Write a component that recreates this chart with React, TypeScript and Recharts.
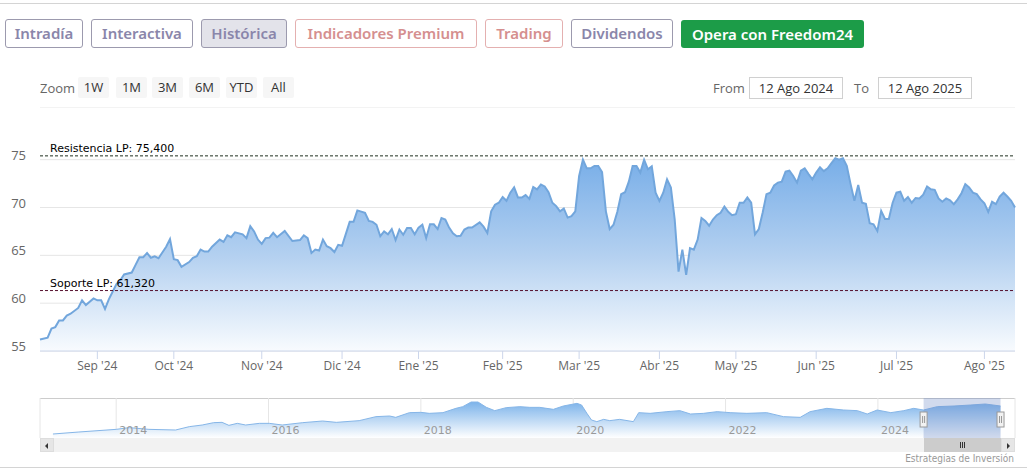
import React from "react";
import {
  AreaChart,
  Area,
  XAxis,
  YAxis,
  CartesianGrid,
  ReferenceLine,
  ReferenceArea,
} from "recharts";

// trading session (0 = 12 Ago 2024) and close price
const sessions = [
  0, 2, 3, 4, 5, 6, 7, 8, 10, 11, 12, 14, 15, 16, 17, 18, 20, 21, 22, 24, 25,
  26, 27, 28, 29, 30, 31, 32, 33, 34, 35, 36, 37, 39, 40, 41, 42, 43, 44, 45,
  47, 48, 49, 50, 51, 53, 54, 55, 56, 57, 58, 59, 60, 61, 62, 64, 66, 68, 69,
  70, 71, 72, 73, 74, 75, 76, 77, 78, 79, 81, 82, 83, 85, 86, 87, 88, 89, 90,
  91, 92, 93, 94, 95, 96, 97, 98, 99, 100, 101, 102, 103, 104, 105, 106, 107,
  108, 109, 110, 111, 112, 113, 115, 116, 117, 118, 119, 120, 121, 122, 123,
  124, 125, 126, 127, 128, 129, 130, 131, 132, 133, 134, 135, 136, 137, 138,
  139, 140, 141, 142, 143, 144, 145, 146, 147, 148, 149, 150, 151, 152, 153,
  154, 155, 156, 157, 158, 159, 160, 161, 162, 163, 164, 165, 166, 167, 168,
  169, 170, 171, 172, 173, 174, 175, 176, 177, 178, 179, 180, 181, 182, 183,
  184, 185, 186, 187, 188, 189, 190, 191, 192, 193, 194, 195, 196, 197, 198,
  199, 200, 201, 202, 203, 204, 205, 206, 207, 208, 209, 210, 211, 212, 213,
  214, 215, 216, 217, 218, 219, 220, 221, 222, 223, 224, 225, 226, 227, 228,
  229, 230, 231, 232, 233, 234, 235, 236, 237, 238, 239, 240, 241, 242, 243,
  244, 245, 246, 247, 248, 249, 250, 251, 252, 253, 254, 255,
];
const prices = [
  56.2, 56.4, 57.35, 57.5, 58.2, 58.2, 58.7, 58.9, 59.5, 60.3, 59.8, 60.5,
  60.3, 60.3, 59.4, 60.4, 62.0, 62.4, 63.0, 63.2, 64.0, 64.8, 64.8, 65.25,
  64.75, 64.9, 64.7, 65.3, 65.9, 66.7, 64.6, 64.5, 63.8, 64.3, 64.75, 64.9,
  65.6, 65.4, 65.4, 65.9, 66.65, 66.4, 67.1, 66.9, 67.4, 67.2, 66.8, 68.05,
  67.5, 66.65, 66.2, 66.8, 66.85, 67.35, 66.9, 67.55, 66.5, 66.6, 67.1, 66.8,
  65.25, 65.6, 65.5, 66.65, 65.95, 65.75, 65.35, 66.1, 66.0, 68.5, 68.5, 69.7,
  69.45, 68.6, 68.5, 68.2, 67.0, 67.5, 67.2, 67.75, 66.6, 67.7, 67.15, 67.85,
  67.85, 67.2, 67.9, 68.2, 66.8, 68.25, 68.25, 67.75, 68.9, 68.75, 67.9, 67.3,
  67.0, 67.05, 67.7, 67.9, 67.9, 68.45, 68.0, 67.35, 69.6, 70.3, 70.5, 71.1,
  70.7, 71.55, 72.1, 71.05, 71.05, 71.3, 70.9, 72.15, 71.9, 72.4, 72.2, 71.6,
  70.5, 70.15, 69.6, 69.9, 68.95, 69.1, 69.6, 73.3, 75.0, 74.1, 74.1, 74.35,
  74.35, 73.7, 69.6, 67.75, 68.2, 69.55, 71.4, 71.6, 72.7, 74.35, 74.35,
  73.65, 75.0, 74.0, 74.3, 71.55, 70.7, 71.55, 72.95, 72.1, 68.75, 63.3, 65.6,
  62.95, 65.75, 65.6, 66.65, 68.9, 68.6, 68.1, 68.75, 69.2, 69.45, 70.1,
  69.55, 69.2, 69.3, 70.5, 70.5, 71.05, 70.5, 67.2, 67.75, 69.45, 71.4, 71.55,
  72.3, 72.6, 72.7, 73.75, 73.85, 73.3, 72.6, 73.85, 74.1, 73.5, 72.95, 73.65,
  74.2, 73.8, 74.1, 74.65, 75.15, 75.0, 75.15, 74.35, 72.45, 70.7, 72.35,
  70.5, 70.4, 68.35, 68.25, 67.55, 69.65, 68.8, 68.8, 70.5, 71.55, 71.65, 70.7,
  71.1, 70.5, 71.0, 70.95, 71.35, 72.2, 71.9, 71.85, 70.95, 70.6, 70.95, 70.75,
  70.35, 70.85, 71.5, 72.45, 72.1, 71.55, 71.4, 70.85, 70.45, 69.55, 70.6,
  70.35, 71.15, 71.55, 71.15, 70.7, 70.0,
];

// first session of each month
const monthSessions = [15, 35, 58, 79, 99, 121, 141, 162, 182, 203, 224, 247];
const monthLabels = [
  "Sep '24", "Oct '24", "Nov '24", "Dic '24", "Ene '25", "Feb '25",
  "Mar '25", "Abr '25", "May '25", "Jun '25", "Jul '25", "Ago '25",
];
const priceTicks = [55, 60, 65, 70, 75];
const resistance = 75.4;
const support = 61.32;

// navigator (full history), x in fractional years
const navYears = [
  2013.17, 2013.51, 2014.0, 2014.17, 2014.43, 2014.78, 2014.96, 2015.13,
  2015.28, 2015.39, 2015.48, 2015.59, 2015.7, 2015.88, 2016.01, 2016.18,
  2016.45, 2016.71, 2016.89, 2017.19, 2017.41, 2017.59, 2017.67, 2017.85,
  2018.0, 2018.11, 2018.29, 2018.46, 2018.55, 2018.66, 2018.75, 2018.86,
  2018.97, 2019.12, 2019.3, 2019.43, 2019.56, 2019.74, 2019.87, 2020.05,
  2020.11, 2020.18, 2020.24, 2020.31, 2020.4, 2020.48, 2020.61, 2020.79,
  2020.86, 2021.01, 2021.23, 2021.4, 2021.54, 2021.71, 2021.89, 2022.06,
  2022.28, 2022.54, 2022.76, 2022.98, 2023.11, 2023.33, 2023.55, 2023.73,
  2023.86, 2023.99, 2024.17, 2024.34, 2024.47, 2024.6, 2024.78, 2025.0,
  2025.22, 2025.41, 2025.61,
];
const navValues = [
  12, 16, 21.3, 24.7, 21.3, 20, 26.7, 30, 34.7, 35.3, 29.3, 33.3, 30, 33.3,
  33.3, 30, 34.7, 38, 35.3, 38.7, 46.7, 48, 45.3, 54.7, 55.3, 53.3, 54.7, 63.3,
  66.7, 76, 76, 65.3, 58.7, 64.7, 66.7, 65.3, 65.3, 61.3, 68, 73.3, 70, 53.3,
  40, 36.7, 41.3, 38.7, 41.3, 36.7, 54.7, 53.3, 56.7, 58.7, 52, 53.3, 56.7,
  54.7, 53.3, 54.7, 46.7, 45.3, 56.7, 63.3, 60, 58.7, 52, 60, 54.7, 58.7, 63.3,
  60, 66.7, 68, 70, 72, 68,
];
const navYearTicks = [2014, 2016, 2018, 2020, 2022, 2024];
const rangeStart = 2024.6;
const rangeEnd = 2025.61;

const mainData = sessions.map((s, i) => ({ s, price: prices[i] }));
const navData = navYears.map((t, i) => ({ t, v: navValues[i] }));

const NAV_MIN = 2013;
const NAV_MAX = 2025.8;
const navX = (t: number) => 40 + ((t - NAV_MIN) / (NAV_MAX - NAV_MIN)) * 975;

const tabs = [
  { label: "Intradía", left: 5, width: 78, color: "#8a86aa", border: "#9c9aae", bg: "#fff" },
  { label: "Interactiva", left: 91, width: 102, color: "#8a86aa", border: "#9c9aae", bg: "#fff" },
  { label: "Histórica", left: 201, width: 86, color: "#8a86aa", border: "#9c9aae", bg: "#e3e3ea" },
  { label: "Indicadores Premium", left: 295, width: 182, color: "#d58f8f", border: "#e4b0b0", bg: "#fff" },
  { label: "Trading", left: 485, width: 78, color: "#d58f8f", border: "#e4b0b0", bg: "#fff" },
  { label: "Dividendos", left: 571, width: 102, color: "#8a86aa", border: "#9c9aae", bg: "#fff" },
];
const zoomButtons = [
  { label: "1W", left: 78 },
  { label: "1M", left: 116 },
  { label: "3M", left: 152 },
  { label: "6M", left: 189 },
  { label: "YTD", left: 226 },
  { label: "All", left: 263 },
];

const YTick = (props: any) => (
  <text
    x={26}
    y={props.y}
    textAnchor="end"
    fill="#666"
    fontSize={13}
    fontFamily="Open Sans"
  >
    {props.payload.value}
  </text>
);

const MonthTick = (props: any) => {
  const i = monthSessions.indexOf(props.payload.value);
  return (
    <text
      x={props.x}
      y={370}
      textAnchor="middle"
      fill="#666"
      fontSize={12}
      fontFamily="Open Sans"
    >
      {monthLabels[i]}
    </text>
  );
};

const YearTick = (props: any) => (
  <text
    x={props.x + 3}
    y={44}
    textAnchor="start"
    fill="#9a9a9a"
    fontSize={11}
    fontFamily="DejaVu Sans"
  >
    {props.payload.value}
  </text>
);

const lineLabel = (text: string) => (props: any) => (
  <text
    x={props.viewBox.x + 10}
    y={props.viewBox.y - 4}
    fill="#000"
    fontSize={11}
    fontFamily="DejaVu Sans"
  >
    {text}
  </text>
);

const Handle = (props: any) => {
  const x = props.viewBox.x;
  const y = props.viewBox.y + 14;
  return (
    <g>
      <rect x={x - 3.5} y={y} width={7} height={15} fill="#f2f2f2" stroke="#999" strokeWidth={1} />
      <line x1={x - 1} y1={y + 4} x2={x - 1} y2={y + 11} stroke="#999" />
      <line x1={x + 1} y1={y + 4} x2={x + 1} y2={y + 11} stroke="#999" />
    </g>
  );
};

const App = () => {
  const thumbLeft = navX(rangeStart);
  const thumbRight = navX(rangeEnd);
  return (
    <div
      style={{
        position: "absolute",
        left: 0,
        top: 0,
        width: 1027,
        height: 471,
        background: "#fff",
        overflow: "hidden",
        fontFamily: "Open Sans",
      }}
    >
      <div style={{ position: "absolute", left: 0, top: 3, width: 1027, height: 1, background: "#d4d4d4" }} />

      {tabs.map((t) => (
        <div
          key={t.label}
          style={{
            position: "absolute",
            left: t.left,
            top: 19,
            width: t.width,
            height: 29,
            boxSizing: "border-box",
            border: `1px solid ${t.border}`,
            borderRadius: 3,
            background: t.bg,
            color: t.color,
            fontFamily: "Noto Sans",
            fontWeight: 600,
            fontSize: 15,
            lineHeight: "27px",
            textAlign: "center",
          }}
        >
          {t.label}
        </div>
      ))}
      <div
        style={{
          position: "absolute",
          left: 681,
          top: 20,
          width: 183,
          height: 28,
          borderRadius: 3,
          background: "#1c9c48",
          color: "#fff",
          fontFamily: "Noto Sans",
          fontWeight: 600,
          fontSize: 15,
          lineHeight: "28px",
          textAlign: "center",
        }}
      >
        Opera con Freedom24
      </div>

      <div style={{ position: "absolute", left: 40, top: 78, fontSize: 13, color: "#666", lineHeight: "20px" }}>
        Zoom
      </div>
      {zoomButtons.map((b) => (
        <div
          key={b.label}
          style={{
            position: "absolute",
            left: b.left,
            top: 77,
            width: 31,
            height: 21,
            background: "#f6f6f6",
            borderRadius: 2,
            fontSize: 13,
            color: "#333",
            lineHeight: "21px",
            textAlign: "center",
          }}
        >
          {b.label}
        </div>
      ))}
      <div style={{ position: "absolute", left: 713, top: 78, fontSize: 13, color: "#666", lineHeight: "20px" }}>
        From
      </div>
      <div
        style={{
          position: "absolute",
          left: 749,
          top: 77,
          width: 94,
          height: 22,
          boxSizing: "border-box",
          border: "1px solid #d0d0d0",
          fontSize: 13,
          color: "#333",
          lineHeight: "20px",
          textAlign: "center",
        }}
      >
        12 Ago 2024
      </div>
      <div style={{ position: "absolute", left: 854, top: 78, fontSize: 13, color: "#666", lineHeight: "20px" }}>
        To
      </div>
      <div
        style={{
          position: "absolute",
          left: 878,
          top: 77,
          width: 94,
          height: 22,
          boxSizing: "border-box",
          border: "1px solid #d0d0d0",
          fontSize: 13,
          color: "#333",
          lineHeight: "20px",
          textAlign: "center",
        }}
      >
        12 Ago 2025
      </div>
      <div style={{ position: "absolute", left: 40, top: 107, width: 975, height: 1, background: "#f3f3f3" }} />

      <div style={{ position: "absolute", left: 0, top: 0 }}>
        <AreaChart
          width={1027}
          height={380}
          data={mainData}
          margin={{ top: 131, right: 12, bottom: 4, left: 8 }}
        >
          <defs>
            <linearGradient id="mainFill" x1="0" y1="0" x2="0" y2="1">
              <stop offset="0%" stopColor="#78aee8" />
              <stop offset="50%" stopColor="#b3d0f0" />
              <stop offset="100%" stopColor="#f8fbfe" />
            </linearGradient>
          </defs>
          <CartesianGrid vertical={false} stroke="#e6e6e6" horizontalValues={priceTicks} />
          <XAxis
            dataKey="s"
            type="number"
            domain={[0, 255]}
            ticks={monthSessions}
            interval={0}
            height={25}
            stroke="#ccd6eb"
            tickSize={8}
            tick={<MonthTick />}
          />
          <YAxis
            domain={[55, 78]}
            ticks={priceTicks}
            width={32}
            axisLine={false}
            tickLine={false}
            tick={<YTick />}
            allowDataOverflow
          />
          <Area
            type="linear"
            dataKey="price"
            stroke="#72a6dc"
            strokeWidth={2}
            fill="url(#mainFill)"
            fillOpacity={1}
            isAnimationActive={false}
            dot={false}
            activeDot={false}
          />
          <ReferenceLine
            y={resistance}
            stroke="#1f301f"
            strokeDasharray="3 2"
            label={lineLabel("Resistencia LP: 75,400")}
          />
          <ReferenceLine
            y={support}
            stroke="#55102e"
            strokeDasharray="3 2"
            label={lineLabel("Soporte LP: 61,320")}
          />
        </AreaChart>
      </div>

      <div style={{ position: "absolute", left: 40, top: 398, width: 975, height: 1, background: "#cccccc" }} />
      <div style={{ position: "absolute", left: 0, top: 390 }}>
        <AreaChart
          width={1027}
          height={60}
          data={navData}
          margin={{ top: 8, right: 12, bottom: 0, left: 40 }}
        >
          <defs>
            <linearGradient id="navFill" x1="0" y1="0" x2="0" y2="1">
              <stop offset="0%" stopColor="#7cb3ea" />
              <stop offset="100%" stopColor="#ffffff" />
            </linearGradient>
          </defs>
          <CartesianGrid horizontal={false} stroke="#e6e6e6" />
          <XAxis
            dataKey="t"
            type="number"
            domain={[NAV_MIN, NAV_MAX]}
            ticks={navYearTicks}
            interval={0}
            height={12}
            axisLine={false}
            tickLine={false}
            tick={<YearTick />}
          />
          <YAxis hide domain={[4, 84]} />
          <Area
            type="linear"
            dataKey="v"
            stroke="#86b6e8"
            strokeWidth={1}
            fill="url(#navFill)"
            fillOpacity={1}
            isAnimationActive={false}
            dot={false}
            activeDot={false}
          />
          <ReferenceArea x1={rangeStart} x2={rangeEnd} fill="#6685c2" fillOpacity={0.3} stroke="none" />
          <ReferenceLine x={rangeStart} strokeOpacity={0} label={<Handle />} />
          <ReferenceLine x={rangeEnd} strokeOpacity={0} label={<Handle />} />
        </AreaChart>
      </div>

      {/* scrollbar */}
      <div style={{ position: "absolute", left: 40, top: 438, width: 975, height: 14, background: "#f2f2f2" }} />
      <div style={{ position: "absolute", left: 40, top: 438, width: 14, height: 14, background: "#e6e6e6", boxSizing: "border-box", border: "1px solid #ddd" }}>
        <div style={{ position: "absolute", left: 4, top: 4, width: 0, height: 0, borderTop: "3px solid transparent", borderBottom: "3px solid transparent", borderRight: "3px solid #333" }} />
      </div>
      <div style={{ position: "absolute", left: 1001, top: 438, width: 14, height: 14, background: "#e6e6e6", boxSizing: "border-box", border: "1px solid #ddd" }}>
        <div style={{ position: "absolute", left: 5, top: 4, width: 0, height: 0, borderTop: "3px solid transparent", borderBottom: "3px solid transparent", borderLeft: "3px solid #333" }} />
      </div>
      <div
        style={{
          position: "absolute",
          left: thumbLeft,
          top: 438,
          width: thumbRight - thumbLeft,
          height: 14,
          background: "#cccccc",
        }}
      >
        {[-2, 0, 2].map((d) => (
          <div key={d} style={{ position: "absolute", left: (thumbRight - thumbLeft) / 2 + d, top: 4, width: 1, height: 6, background: "#333" }} />
        ))}
      </div>

      <div
        style={{
          position: "absolute",
          right: 13,
          top: 452,
          fontSize: 10,
          lineHeight: "14px",
          color: "#999",
          fontFamily: "Liberation Sans Narrow, DejaVu Sans Condensed, Arial",
        }}
      >
        Estrategias de Inversión
      </div>
      <div style={{ position: "absolute", left: 0, top: 467, width: 1027, height: 1, background: "#d4d4d4" }} />
    </div>
  );
};

export default App;
